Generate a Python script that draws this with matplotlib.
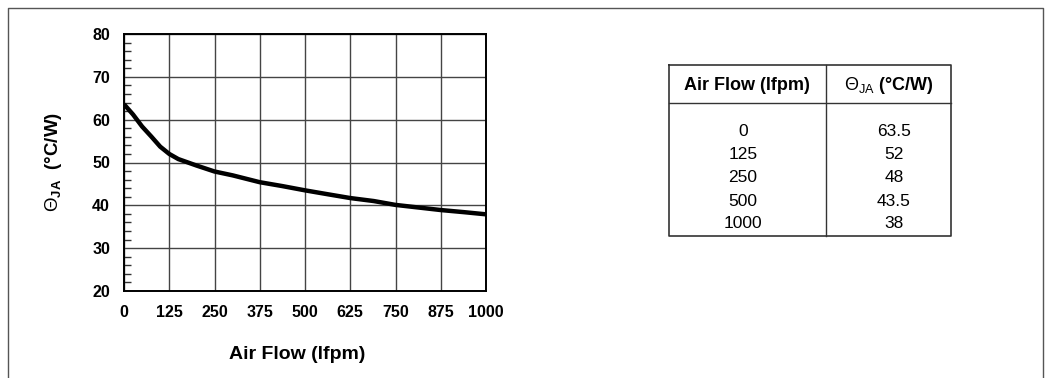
import numpy as np
import matplotlib.pyplot as plt
from matplotlib.lines import Line2D

plt.rcParams['font.family'] = ['Liberation Sans', 'DejaVu Sans']
plt.rcParams['mathtext.fontset'] = 'custom'
plt.rcParams['mathtext.rm'] = 'Liberation Sans'
plt.rcParams['mathtext.bf'] = 'Liberation Sans:bold'

# curve
airflow = [0, 25, 50, 75, 100, 125, 150, 200, 250, 300, 375, 437, 500, 562, 625, 690, 750, 875, 940, 1000]
theta_ja = [63.6, 61.2, 58.4, 56.1, 53.7, 52.0, 50.8, 49.3, 47.9, 47.0, 45.4, 44.5, 43.5, 42.6, 41.7, 41.0, 40.1, 38.9, 38.4, 37.9]

x_ticks = [0, 125, 250, 375, 500, 625, 750, 875, 1000]
y_ticks = [20, 30, 40, 50, 60, 70, 80]

# table values
table_header = ['Air Flow (lfpm)', r'$\Theta_{\mathrm{JA}}$ (°C/W)']
table_flow = ['0', '125', '250', '500', '1000']
table_theta = ['63.5', '52', '48', '43.5', '38']

W, H = 1048, 378
fig = plt.figure(figsize=(W / 100, H / 100), dpi=100)

def fx(px):
    return px / W

def fy(py):
    return 1 - py / H

# outer frame (left, top, right)
fig.add_artist(Line2D([fx(7.5), fx(7.5), fx(1043), fx(1043)],
                      [fy(378), fy(8), fy(8), fy(378)], color='#555555', lw=1.0))

ax = fig.add_axes([fx(124), fy(291), fx(486) - fx(124), fy(34) - fy(291)])
ax.plot(airflow, theta_ja, color='black', lw=3.2, solid_capstyle='butt')
ax.set_xlim(0, 1000)
ax.set_ylim(20, 80)
ax.set_xticks(x_ticks)
ax.set_yticks(y_ticks)
ax.set_yticks(np.arange(20, 81, 2), minor=True)
ax.grid(True, which='major', color='#444444', lw=1.0)
ax.tick_params(axis='x', length=0, pad=10, labelsize=11.5)
ax.tick_params(axis='y', which='major', length=0, pad=10, labelsize=11.5)
ax.tick_params(axis='y', which='minor', direction='in', length=5, width=1, color='#333333')
for lab in ax.get_xticklabels() + ax.get_yticklabels():
    lab.set_fontweight('bold')
for s in ax.spines.values():
    s.set_linewidth(1.4)

ax.set_xlabel('Air Flow (lfpm)', fontsize=14, fontweight='bold')
ax.xaxis.set_label_coords(0.478, -0.215)
ax.set_ylabel(r'$\Theta_{\mathbf{JA}}$  (°C/W)', fontsize=13.5, fontweight='bold', labelpad=20)

# table
tl, tr, tt, tb = 669, 951, 65, 236
tdiv, thead = 826, 103
lc = '#333333'
fig.add_artist(Line2D([fx(tl), fx(tr), fx(tr), fx(tl), fx(tl)],
                      [fy(tt), fy(tt), fy(tb), fy(tb), fy(tt)], color=lc, lw=1.2))
fig.add_artist(Line2D([fx(tl), fx(tr)], [fy(thead), fy(thead)], color=lc, lw=1.0))
fig.add_artist(Line2D([fx(tdiv), fx(tdiv)], [fy(tt), fy(tb)], color=lc, lw=1.0))

fig.text(fx(747), fy(85), table_header[0], ha='center', va='center',
         fontsize=13, fontweight='bold')
fig.text(fx(889), fy(85), table_header[1], ha='center', va='center',
         fontsize=13, fontweight='bold')
row_y = [132, 155, 178, 201, 223]
for ry, f, t in zip(row_y, table_flow, table_theta):
    fig.text(fx(743), fy(ry), f, ha='center', va='center', fontsize=12.5)
    fig.text(fx(894), fy(ry), t, ha='center', va='center', fontsize=12.5)

fig.savefig('out.png', dpi=100)
